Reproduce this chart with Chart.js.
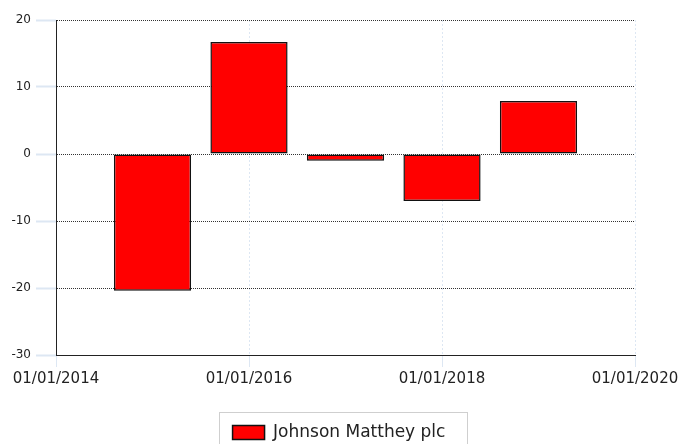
<!DOCTYPE html>
<html>
<head>
<meta charset="utf-8">
<script src="https://cdn.jsdelivr.net/npm/chart.js@4"></script>
<style>
  html, body { margin: 0; padding: 0; background: #fff; overflow: hidden; }
  #wrap { width: 678px; height: 451px; }
</style>
</head>
<body>
<div id="wrap"><canvas id="barChart"></canvas></div>
<script>
// yearly change, Johnson Matthey plc
// bars sit on 01/01 of each year
var years = [2015, 2016, 2017, 2018, 2019];
var values = [-20.4, 16.7, -1.0, -7.0, 7.9];
var seriesName = "Johnson Matthey plc";

// axis ranges / ticks
var xTickYears = [2014, 2016, 2018, 2020];
var yTicks = [-30, -20, -10, 0, 10, 20];

var points = years.map(function (y, i) { return { x: y, y: values[i] }; });

// thin grey frame round the legend item
var legendFrame = {
  id: 'legendFrame',
  afterDraw: function (chart) {
    var hb = chart.legend.legendHitBoxes[0];
    if (!hb) return;
    var ctx = chart.ctx;
    ctx.save();
    ctx.strokeStyle = '#cfcfcf';
    ctx.lineWidth = 1;
    ctx.strokeRect(Math.round(hb.left - 14) + 0.5, Math.round(hb.top - 12) + 0.5,
      Math.round(hb.width + 35), hb.height + 30);
    ctx.restore();
  }
};

var barChart = new Chart(document.getElementById("barChart"), {
  type: 'bar',
  data: {
    datasets: [
      {
        label: seriesName,
        data: points,
        backgroundColor: "#ff0000",
        borderColor: "#111111",
        borderWidth: 1.5,
        borderSkipped: false,
        barPercentage: 1,
        categoryPercentage: 0.8
      }
    ]
  },
  options: {
    responsive: true,
    maintainAspectRatio: false,
    animation: false,
    layout: { padding: { top: 20, right: 0, left: 0, bottom: 0 } },
    plugins: {
      tooltip: { enabled: false },
      legend: {
        position: 'bottom',
        labels: {
          color: '#222',
          font: { family: 'DejaVu Sans', size: 17 },
          boxWidth: 32,
          boxHeight: 14,
          padding: 4
        }
      }
    },
    scales: {
      x: {
        type: 'linear',
        offset: false,
        min: xTickYears[0],
        max: xTickYears[xTickYears.length - 1],
        afterBuildTicks: function (axis) {
          axis.ticks = xTickYears.map(function (v) { return { value: v }; });
        },
        afterFit: function (axis) {
          axis.height = 65;
          axis.paddingRight = 43;
          axis.paddingLeft = 0;
        },
        ticks: {
          color: '#222',
          font: { family: 'DejaVu Sans', size: 15 },
          padding: 3,
          maxRotation: 0,
          autoSkip: false,
          callback: function (v) { return "01/01/" + v; }
        },
        grid: {
          offset: false,
          color: '#dde7f3',
          tickColor: '#dde7f3',
          tickLength: 12,
          lineWidth: 1
        },
        border: { display: true, color: '#222', width: 1, dash: [2, 2] }
      },
      y: {
        min: yTicks[0],
        max: yTicks[yTicks.length - 1],
        afterBuildTicks: function (axis) {
          axis.ticks = yTicks.map(function (v) { return { value: v }; });
        },
        afterFit: function (axis) { axis.width = 56; },
        ticks: {
          color: '#222',
          font: { family: 'DejaVu Sans', size: 12 },
          padding: 5
        },
        grid: {
          color: '#333',
          tickColor: '#dde7f3',
          tickLength: 20,
          tickWidth: 2,
          lineWidth: 1
        },
        border: { display: true, color: '#222', width: 1, dash: [1, 1] }
      }
    }
  },
  plugins: [legendFrame]
});
</script>
</body>
</html>
